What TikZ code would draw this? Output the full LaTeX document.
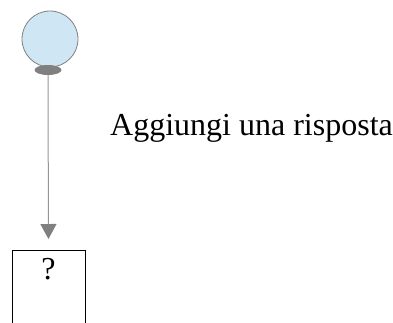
\documentclass[tikz,border=0pt]{standalone}
\usepackage{fontspec}
\setmainfont{Liberation Serif}
\usetikzlibrary{arrows.meta,shapes.geometric}
\definecolor{balloonblue}{RGB}{207,231,245}
\definecolor{knotgray}{RGB}{128,128,128}
\definecolor{stringgray}{RGB}{150,150,150}
\begin{document}
\begin{tikzpicture}[x=1pt,y=1pt,
    balloon/.style={circle,draw=knotgray,fill=balloonblue,line width=0.8pt,minimum size=56pt,inner sep=0pt},
    knot/.style={ellipse,fill=knotgray,minimum width=27pt,minimum height=10pt,inner sep=0pt},
    answer/.style={rectangle,draw=black,line width=1pt,minimum width=73pt,minimum height=100pt,anchor=north},
    wire/.style={draw=stringgray,line width=1pt,-{Triangle[length=15pt,width=16pt,fill=knotgray,color=knotgray]}}]

  \clip (0,0) rectangle (393,-322);
  \useasboundingbox (0,0) rectangle (393,-322);

  % balloon and its knot
  \node[balloon] (ball) at (50,-39) {};
  \node[knot] (knot) at (48,-70) {};

  % the box the string points to
  \node[answer] (box) at (48.5,-250) {};
  \node[font=\fontsize{32}{38}\selectfont] (q) at (48.5,-269) {?};

  \node[font=\fontsize{32}{38}\selectfont,anchor=base west,inner sep=0pt] (lbl) at (110,-135) {Aggiungi una risposta};

  \path[wire,shorten >=11pt] (knot.south) -- (box.north);

\end{tikzpicture}
\end{document}
